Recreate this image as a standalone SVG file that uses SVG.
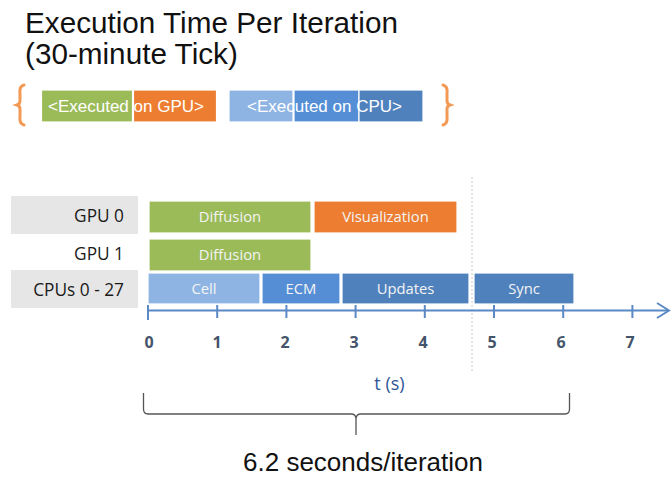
<svg xmlns="http://www.w3.org/2000/svg" width="671" height="477" viewBox="0 0 671 477">
  <style>
    .title { font-family: "Liberation Sans", Arial, sans-serif; font-size: 29.7px; fill: #111; }
    .leg { font-family: "Liberation Sans", Arial, sans-serif; font-size: 17px; fill: #fff; }
    .bar { stroke: #fff; stroke-width: 1.2; }
    .barlbl { font-family: "Open Sans", "Noto Sans", sans-serif; font-size: 14.8px; fill: #f4f4f4; text-anchor: middle; }
    .rowbox { fill: #e6e6e6; }
    .rowlbl { font-family: "Open Sans", "Noto Sans", sans-serif; font-size: 17.3px; fill: #1a1a1a; text-anchor: end; }
    .tick { stroke: #5a8ac6; stroke-width: 2; }
    .ticklbl { font-family: "Open Sans", "Noto Sans", sans-serif; font-size: 16px; font-weight: bold; fill: #44546a; text-anchor: middle; }
    .brace { fill: none; stroke: #f29a55; stroke-width: 3; stroke-linecap: round; }
    .green { fill: #9bbb59; }
    .orange { fill: #ed7d31; }
    .lblue { fill: #8eb4e3; }
    .mblue { fill: #558ed5; }
    .dblue { fill: #4f81bd; }
  </style>

  <!-- heading -->
  <text class="title" x="25" y="33">Execution Time Per Iteration</text>
  <text class="title" x="25" y="64">(30-minute Tick)</text>

  <!-- key -->
  <g id="legend">
    <path class="brace" d="M24,85 Q19,86 20,94 L20,101 Q20,104 17,105 Q20,106 20,109 L20,116 Q19,124 24,125"/>
    <path class="brace" d="M443,85 Q448,86 447,94 L447,101 Q447,104 450,105 Q447,106 447,109 L447,116 Q448,124 443,125"/>
    <rect class="bar green" x="41.5" y="90" width="91" height="32"/>
    <rect class="bar orange" x="133.5" y="90" width="83" height="32"/>
    <rect class="bar lblue" x="229" y="90" width="64" height="32"/>
    <rect class="bar mblue" x="294" y="90" width="65" height="32"/>
    <rect class="bar dblue" x="359" y="90" width="64" height="32"/>
    <text class="leg" x="48" y="112">&lt;Executed on GPU&gt;</text>
    <text class="leg" x="247" y="112">&lt;Executed on CPU&gt;</text>
  </g>

  <!-- row headers -->
  <g id="row-gpu0">
    <rect class="rowbox" x="11" y="196" width="127" height="38"/>
    <text class="rowlbl" x="124" y="222">GPU 0</text>
  </g>
  <g id="row-gpu1">
    <text class="rowlbl" x="124" y="260">GPU 1</text>
  </g>
  <g id="row-cpu">
    <rect class="rowbox" x="11" y="270" width="127" height="38"/>
    <text class="rowlbl" x="124" y="296">CPUs 0 - 27</text>
  </g>

  <!-- task bars -->
  <g id="gpu0-diffusion">
    <rect class="bar green" x="149" y="201" width="162" height="32"/>
    <text class="barlbl" x="230" y="222">Diffusion</text>
  </g>
  <g id="gpu0-visualization">
    <rect class="bar orange" x="314" y="201" width="143" height="32"/>
    <text class="barlbl" x="385.5" y="222">Visualization</text>
  </g>
  <g id="gpu1-diffusion">
    <rect class="bar green" x="149" y="239" width="162" height="32"/>
    <text class="barlbl" x="230" y="260">Diffusion</text>
  </g>
  <g id="cpu-cell">
    <rect class="bar lblue" x="148" y="273" width="112" height="31"/>
    <text class="barlbl" x="204" y="294">Cell</text>
  </g>
  <g id="cpu-ecm">
    <rect class="bar mblue" x="262" y="273" width="78" height="31"/>
    <text class="barlbl" x="301" y="294">ECM</text>
  </g>
  <g id="cpu-updates">
    <rect class="bar dblue" x="342" y="273" width="127" height="31"/>
    <text class="barlbl" x="405.5" y="294">Updates</text>
  </g>
  <g id="cpu-sync">
    <rect class="bar dblue" x="474" y="273" width="100" height="31"/>
    <text class="barlbl" x="524" y="294">Sync</text>
  </g>

  <!-- time axis, iteration boundary and span brace -->
  <g id="connectors">
    <line x1="472" y1="177" x2="472" y2="371" stroke="#c8c8c8" stroke-width="1" stroke-dasharray="2,2"/>
    <line x1="147" y1="310.5" x2="668" y2="310.5" stroke="#5a8ac6" stroke-width="2"/>
    <polyline points="657,303 669,310.5 657,318" fill="none" stroke="#5a8ac6" stroke-width="2"/>
    <g class="tick">
      <line x1="148" y1="305" x2="148" y2="320"/>
      <line x1="217.2" y1="305" x2="217.2" y2="318"/>
      <line x1="286.4" y1="305" x2="286.4" y2="318"/>
      <line x1="355.6" y1="305" x2="355.6" y2="318"/>
      <line x1="424.8" y1="305" x2="424.8" y2="318"/>
      <line x1="494" y1="305" x2="494" y2="318"/>
      <line x1="563.2" y1="305" x2="563.2" y2="318"/>
      <line x1="632.4" y1="305" x2="632.4" y2="318"/>
    </g>
    <path d="M143.5,393 L143.5,409 Q143.5,414 148,414 L351,414 Q356,414 356,419 L356,435 M356,419 Q356,414 361,414 L565,414 Q569.5,414 569.5,409 L569.5,393" fill="none" stroke="#555" stroke-width="1.3"/>
  </g>

  <g id="axis-labels">
    <text class="ticklbl" x="149" y="348">0</text>
    <text class="ticklbl" x="217" y="348">1</text>
    <text class="ticklbl" x="285" y="348">2</text>
    <text class="ticklbl" x="354" y="348">3</text>
    <text class="ticklbl" x="423" y="348">4</text>
    <text class="ticklbl" x="492" y="348">5</text>
    <text class="ticklbl" x="561" y="348">6</text>
    <text class="ticklbl" x="630" y="348">7</text>
    <text x="389.5" y="390" font-family="Open Sans, Noto Sans, sans-serif" font-size="18" fill="#2f5597" text-anchor="middle">t (s)</text>
  </g>

  <text x="363" y="471" font-family="Liberation Sans, Arial, sans-serif" font-size="26" fill="#111" text-anchor="middle">6.2 seconds/iteration</text>
</svg>
